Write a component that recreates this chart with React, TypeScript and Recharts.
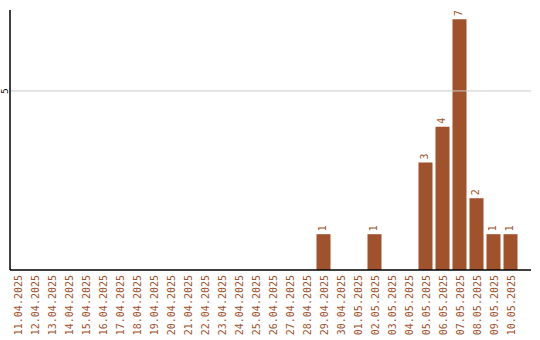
import { BarChart, Bar, XAxis, YAxis, LabelList, ReferenceLine } from 'recharts'

const BAR_COLOR = '#A0522D'
const FONT = '"DejaVu Sans Mono", monospace'

const dates = [
  '11.04.2025', '12.04.2025', '13.04.2025', '14.04.2025', '15.04.2025',
  '16.04.2025', '17.04.2025', '18.04.2025', '19.04.2025', '20.04.2025',
  '21.04.2025', '22.04.2025', '23.04.2025', '24.04.2025', '25.04.2025',
  '26.04.2025', '27.04.2025', '28.04.2025', '29.04.2025', '30.04.2025',
  '01.05.2025', '02.05.2025', '03.05.2025', '04.05.2025', '05.05.2025',
  '06.05.2025', '07.05.2025', '08.05.2025', '09.05.2025', '10.05.2025',
]

const counts = [
  0, 0, 0, 0, 0, 0, 0, 0, 0, 0,
  0, 0, 0, 0, 0, 0, 0, 0, 1, 0,
  0, 1, 0, 0, 3, 4, 7, 2, 1, 1,
]

const yTicks = [5]

const data = dates.map((date, i) => ({ date, count: counts[i] }))

function DateTick({ x, y, payload }: any) {
  return (
    <text
      transform={`translate(${x + 5}, ${y}) rotate(-90)`}
      textAnchor="end"
      fill={BAR_COLOR}
      fontSize={10}
      fontFamily={FONT}
    >
      {payload.value}
    </text>
  )
}

function CountTick({ y, payload }: any) {
  return (
    <text
      transform={`translate(8, ${y}) rotate(-90)`}
      textAnchor="middle"
      fill="#000"
      fontSize={9}
      fontFamily={FONT}
    >
      {payload.value}
    </text>
  )
}

function BarValue({ x, y, width, value }: any) {
  if (!value) return null
  return (
    <text
      transform={`translate(${x + width / 2 + 2}, ${y - 3}) rotate(-90)`}
      textAnchor="start"
      fill={BAR_COLOR}
      fontSize={10}
      fontFamily={FONT}
    >
      {value}
    </text>
  )
}

export default function App() {
  return (
    <div style={{ position: 'absolute', left: 0, top: 0, background: '#fff' }}>
      <BarChart
        width={540}
        height={340}
        data={data}
        margin={{ top: 10, right: 9, left: 0, bottom: 0 }}
        barSize={14}
      >
        {yTicks.map((t) => (
          <ReferenceLine key={t} y={t} stroke="#ccc" />
        ))}
        <XAxis
          dataKey="date"
          interval={0}
          height={70}
          tickLine={false}
          tickSize={0}
          tickMargin={5}
          padding={{ left: -1.5, right: 12.5 }}
          axisLine={{ stroke: '#000', strokeWidth: 1.5 }}
          tick={<DateTick />}
        />
        <YAxis
          width={10}
          domain={[0, 7.26]}
          ticks={yTicks}
          tickLine={false}
          tickSize={0}
          axisLine={{ stroke: '#000', strokeWidth: 1.5 }}
          tick={<CountTick />}
        />
        <Bar dataKey="count" fill={BAR_COLOR} isAnimationActive={false}>
          <LabelList dataKey="count" content={<BarValue />} />
        </Bar>
      </BarChart>
    </div>
  )
}
